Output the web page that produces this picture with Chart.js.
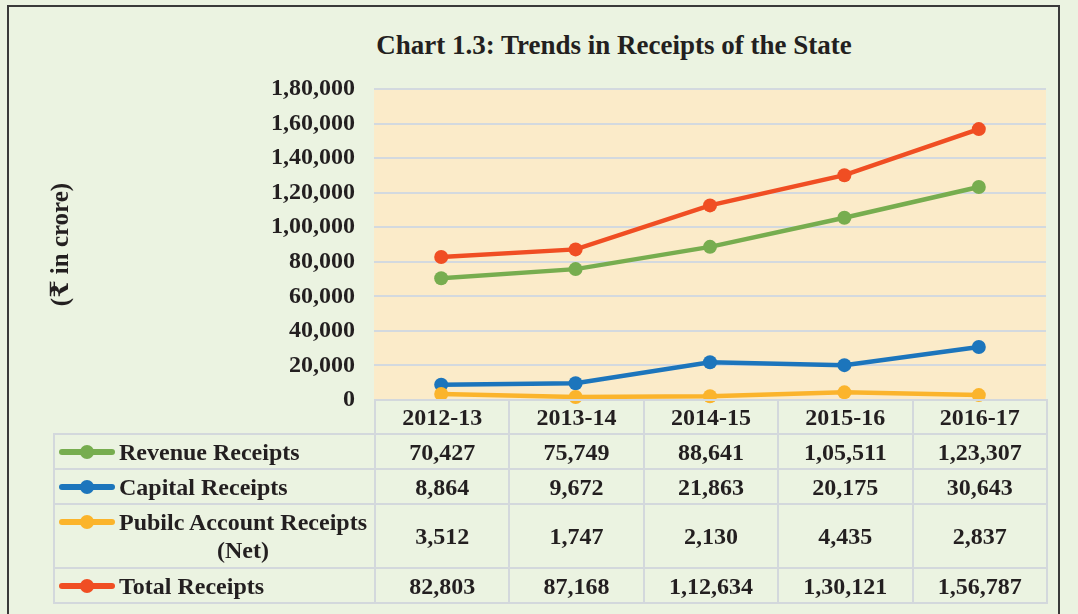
<!DOCTYPE html>
<html>
<head>
<meta charset="utf-8">
<script src="https://cdn.jsdelivr.net/npm/chart.js@4.4.1/dist/chart.umd.min.js"></script>
<style>
    html, body { margin: 0; padding: 0; background: #EBF3E1; }
    body {
        width: 1078px; height: 614px; position: relative; overflow: hidden;
        font-family: 'Liberation Serif', 'DejaVu Serif', serif; color: #231F20;
    }
    #frame {
        position: absolute; left: 7px; top: 5px; width: 1053px; height: 660px;
        border: 2px solid #3A3A3A; box-sizing: border-box; background: #EBF3E1;
    }
    #title {
        position: absolute; left: 170px; width: 888px; top: 30px;
        text-align: center; font-weight: bold; font-size: 27px; line-height: 30px;
    }
    #chart { position: absolute; left: 0; top: 0; }
    #dataTable {
        position: absolute; border-collapse: collapse; table-layout: fixed;
        font-weight: bold; font-size: 24px; line-height: 28px;
    }
    #dataTable td {
        border: 2px solid #D3D8DC; text-align: center; padding: 0; vertical-align: middle;
    }
    #dataTable td.blank { border: none; }
    #dataTable td.label { text-align: left; padding-left: 4px; }
    .lab { display: flex; align-items: flex-start; }
    .key { position: relative; width: 56px; height: 14px; margin: 7px 4px 0 0; flex: none; }
    .key .bar { position: absolute; left: 0; right: 0; top: 4px; height: 6px; border-radius: 3px; }
    .key .dot { position: absolute; left: 21px; top: 0; width: 14px; height: 14px; border-radius: 50%; }
    .txt { display: inline-block; text-align: center; white-space: nowrap; }
</style>
</head>
<body>
<div id="frame"></div>
<div id="title">Chart 1.3: Trends in Receipts of the State</div>
<canvas id="chart" width="1078" height="614"></canvas>
<table id="dataTable"></table>

<script>
/* ── data ─────────────────────────────────────── */
const years = ['2012-13', '2013-14', '2014-15', '2015-16', '2016-17'];

const revenueReceipts = [70427, 75749, 88641, 105511, 123307];
const capitalReceipts = [8864, 9672, 21863, 20175, 30643];
const publicAccountNet = [3512, 1747, 2130, 4435, 2837];
const totalReceipts   = [82803, 87168, 112634, 130121, 156787];

const seriesNames  = ['Revenue Receipts', 'Capital Receipts', 'Pubilc Account Receipts\n(Net)', 'Total Receipts'];
const seriesColors = ['#77AD4F', '#1C75BC', '#FBB42B', '#F04E23'];

const yMin = 0, yMax = 180000, yStep = 20000;

/* Indian digit grouping: 1,80,000 */
function inr(n) {
    const s = String(Math.round(n));
    if (s.length <= 3) return s;
    const rest = s.slice(0, -3).replace(/\B(?=(\d{2})+(?!\d))/g, ',');
    return rest + ',' + s.slice(-3);
}

const FONT = "'Liberation Serif', 'DejaVu Serif', serif";
const INK  = '#231F20';

const plotBackground = {
    id: 'plotBackground',
    beforeDraw(chart) {
        const { ctx, chartArea: a } = chart;
        ctx.save();
        ctx.fillStyle = '#FBEBC9';
        ctx.fillRect(a.left, a.top, a.right - a.left, a.bottom - a.top);
        ctx.restore();
    }
};

// place the html data table under the plot, column for column
const tablePlacer = {
    id: 'tablePlacer',
    afterRender(chart) {
        const a = chart.chartArea;
        const tbl = document.getElementById('dataTable');
        const labelLeft = 53;
        const colW = (a.right - a.left) / years.length;
        tbl.style.left = labelLeft + 'px';
        tbl.style.top = (a.bottom - 1) + 'px';
        tbl.style.width = (a.right - labelLeft) + 'px';
        const cols = tbl.querySelectorAll('col');
        cols[0].style.width = (a.left - labelLeft) + 'px';
        for (let i = 1; i < cols.length; i++) cols[i].style.width = colW + 'px';
    }
};

function buildTable() {
    const allSeries = [revenueReceipts, capitalReceipts, publicAccountNet, totalReceipts];
    const rowHeights = [35, 35, 64, 35];
    let html = '<colgroup><col>' + years.map(() => '<col>').join('') + '</colgroup>';
    html += '<tr style="height:34px"><td class="blank"></td>' + years.map(y => `<td>${y}</td>`).join('') + '</tr>';
    allSeries.forEach((vals, i) => {
        const name = seriesNames[i].replace('\n', '<br>');
        html += `<tr style="height:${rowHeights[i]}px"><td class="label"><div class="lab">` +
            `<span class="key"><span class="bar" style="background:${seriesColors[i]}"></span>` +
            `<span class="dot" style="background:${seriesColors[i]}"></span></span>` +
            `<span class="txt">${name}</span></div></td>` +
            vals.map(v => `<td>${inr(v)}</td>`).join('') + '</tr>';
    });
    document.getElementById('dataTable').innerHTML = html;
}
buildTable();

function lineSet(label, data, color, order) {
    return {
        label, data, order,
        borderColor: color, backgroundColor: color,
        pointBackgroundColor: color, pointBorderColor: color,
        borderWidth: 4.5, pointRadius: 7, pointBorderWidth: 0,
        tension: 0, fill: false, clip: false
    };
}

new Chart(document.getElementById('chart').getContext('2d'), {
    type: 'line',
    data: {
        labels: years,
        datasets: [
            lineSet('Revenue Receipts', revenueReceipts, seriesColors[0], 4),
            lineSet('Capital Receipts', capitalReceipts, seriesColors[1], 3),
            lineSet('Pubilc Account Receipts (Net)', publicAccountNet, seriesColors[2], 2),
            lineSet('Total Receipts', totalReceipts, seriesColors[3], 1)
        ]
    },
    options: {
        responsive: false, animation: false, devicePixelRatio: 1,
        layout: { padding: { left: 47, right: 32, top: 89, bottom: 214 } },
        plugins: { legend: { display: false }, title: { display: false }, tooltip: { enabled: false } },
        scales: {
            x: { display: false, offset: true },
            y: {
                min: yMin, max: yMax,
                afterFit: s => { s.width = 374 - 47; },
                border: { display: false },
                grid: { color: '#D3D9DF', lineWidth: 2, drawTicks: false },
                ticks: {
                    stepSize: yStep, padding: 19, color: INK,
                    font: { family: FONT, size: 24, weight: 'bold' },
                    callback: v => inr(v)
                },
                title: {
                    display: true, text: '(₹ in crore)', color: INK, padding: 0,
                    font: { family: FONT, size: 25, weight: 'bold' }
                }
            }
        }
    },
    plugins: [plotBackground, tablePlacer]
});
</script>
</body>
</html>
